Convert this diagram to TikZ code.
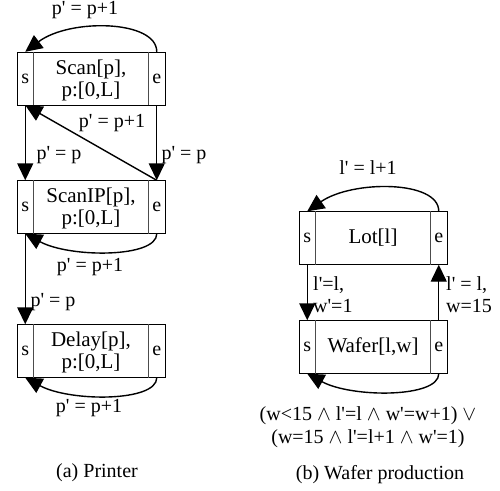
\documentclass[tikz,border=0pt]{standalone}
\usepackage{fontspec}
\setmainfont{Liberation Serif}
\usetikzlibrary{arrows.meta}
\newcommand{\pq}{\textquotesingle}
\begin{document}
\begin{tikzpicture}[x=1pt,y=-1pt,
  every node/.style={font=\fontsize{20}{22}\selectfont},
  box/.style={draw, line width=0.9pt, minimum height=53pt, inner sep=0pt},
  cell/.style={minimum width=16.5pt, minimum height=53pt, inner sep=0pt},
  div/.style={line width=0.7pt, black!70},
  txt/.style={align=center, inner sep=0pt, font=\fontsize{21}{22}\selectfont},
  lbl/.style={inner sep=0pt},
  arr/.style={line width=1.4pt, -{Triangle[length=17pt,width=16pt]}}]
\useasboundingbox (0,0) rectangle (500,490);

% ---- Printer ----
\node[box, minimum width=148pt] (scan) at (91,78.5) {};
\node[cell] (scanS) at (25.25,78.5) {s};
\node[cell] (scanE) at (156.75,78.5) {e};
\node[txt] (scanT) at (91,80) {Scan[p],\\p:[0,L]};
\draw[div] (scanS.north east) -- (scanS.south east);
\draw[div] (scanE.north west) -- (scanE.south west);

\node[box, minimum width=148pt] (scanip) at (91,207) {};
\node[cell] (scanipS) at (25.25,207) {s};
\node[cell] (scanipE) at (156.75,207) {e};
\node[txt] (scanipT) at (91,208.5) {ScanIP[p],\\p:[0,L]};
\draw[div] (scanipS.north east) -- (scanipS.south east);
\draw[div] (scanipE.north west) -- (scanipE.south west);

\node[box, minimum width=148pt] (delay) at (91,351) {};
\node[cell] (delayS) at (25.25,351) {s};
\node[cell] (delayE) at (156.75,351) {e};
\node[txt] (delayT) at (91,352.5) {Delay[p],\\p:[0,L]};
\draw[div] (delayS.north east) -- (delayS.south east);
\draw[div] (delayE.north west) -- (delayE.south west);

\draw[arr] (scanE.north) .. controls (157,20) and (70,18) .. (scanS.north);
\node[lbl] (l1) at (85,10) {p\pq{} = p+1};
\draw[arr] (scanS.south) -- (scanipS.north);
\node[lbl] (l2) at (59,155) {p\pq{} = p};
\draw[arr] (scanE.south) -- (scanipE.north);
\node[lbl] (l3) at (184,155) {p\pq{} = p};
\draw[arr] (scanipE.north) -- (scanS.south);
\node[lbl] (l4) at (112,123) {p\pq{} = p+1};
\draw[arr] (scanipE.south) .. controls (157,258) and (70,258) .. (scanipS.south);
\node[lbl] (l5) at (90,267) {p\pq{} = p+1};
\draw[arr] (scanipS.south) -- (delayS.north);
\node[lbl] (l6) at (53,302) {p\pq{} = p};
\draw[arr] (delayE.south) .. controls (157,402) and (70,402) .. (delayS.south);
\node[lbl] (l7) at (89,408) {p\pq{} = p+1};
\node[lbl] (capa) at (97,473) {(a) Printer};

% ---- Wafer production ----
\node[box, minimum width=148pt] (lot) at (373,238) {};
\node[cell] (lotS) at (307.25,238) {s};
\node[cell] (lotE) at (438.75,238) {e};
\node[txt] (lotT) at (373,238) {Lot[l]};
\draw[div] (lotS.north east) -- (lotS.south east);
\draw[div] (lotE.north west) -- (lotE.south west);

\node[box, minimum width=148pt] (wafer) at (373,347) {};
\node[cell] (waferS) at (307.25,347) {s};
\node[cell] (waferE) at (438.75,347) {e};
\node[txt] (waferT) at (373,347) {Wafer[l,w]};
\draw[div] (waferS.north east) -- (waferS.south east);
\draw[div] (waferE.north west) -- (waferE.south west);

\draw[arr] (lotE.north) .. controls (439,180) and (352,180) .. (lotS.north);
\node[lbl] (m1) at (368,168) {l\pq{} = l+1};
\draw[arr] (lotS.south) -- (waferS.north);
\node[lbl, anchor=west, align=left] (m2) at (313,294.5) {l\pq{}=l,\\w\pq{}=1};
\draw[arr] (waferE.north) -- (lotE.south);
\node[lbl, anchor=west, align=left] (m3) at (446,294.5) {l\pq{} = l,\\w=15};
\draw[arr] (waferE.south) .. controls (439,398) and (352,398) .. (waferS.south);
\node[lbl, align=center, font=\fontsize{20}{23}\selectfont] (m4) at (368,427) {(w<15 $\wedge$ l\pq{}=l $\wedge$ w\pq{}=w+1) $\vee$\\(w=15 $\wedge$ l\pq{}=l+1 $\wedge$ w\pq{}=1)};
\node[lbl] (capb) at (380,475) {(b) Wafer production};
\end{tikzpicture}
\end{document}
